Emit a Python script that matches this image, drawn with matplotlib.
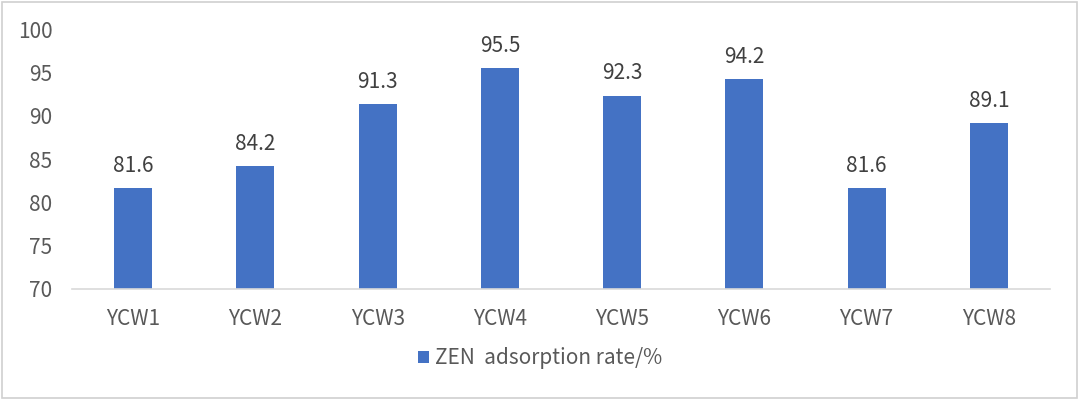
import matplotlib.pyplot as plt
from matplotlib.patches import Rectangle

plt.rcParams['font.family'] = ['Noto Sans CJK SC', 'DejaVu Sans']

categories = ["YCW1", "YCW2", "YCW3", "YCW4", "YCW5", "YCW6", "YCW7", "YCW8"]
values = [81.6, 84.2, 91.3, 95.5, 92.3, 94.2, 81.6, 89.1]
yticks = [70, 75, 80, 85, 90, 95, 100]
series_name = "ZEN  adsorption rate/%"

text_color = "#595959"
bar_color = "#4472C4"

fig = plt.figure(figsize=(10.8, 3.99), dpi=100)
ax = fig.add_axes([0.0667, 0.2757, 0.9055, 0.6516])

x = range(len(categories))
bars = ax.bar(x, values, width=0.31, color=bar_color, label=series_name, zorder=2)
for xi, v in zip(x, values):
    ax.text(xi, v + 1.3, f"{v:.1f}", ha="center", va="bottom",
            fontsize=15, color="#404040")

ax.set_xlim(-0.5, len(categories) - 0.5)
ax.set_ylim(70, 100)
ax.set_yticks(yticks)
ax.set_xticks(list(x))
ax.set_xticklabels(categories)
ax.tick_params(axis="both", length=0, labelsize=15, labelcolor=text_color)
ax.tick_params(axis="y", pad=14)
ax.tick_params(axis="x", pad=14)

for side in ["top", "right", "left"]:
    ax.spines[side].set_visible(False)
ax.spines["bottom"].set_color("#D9D9D9")
ax.spines["bottom"].set_linewidth(1.2)

fig.legend(handles=[bars], labels=[series_name], loc="center",
           bbox_to_anchor=(0.5, 0.102), frameon=False, fontsize=15,
           labelcolor=text_color, handlelength=0.55, handleheight=0.55,
           handletextpad=0.3)

fig.patches.append(Rectangle((0.002, 0.003), 0.995, 0.993, transform=fig.transFigure,
                             fill=False, edgecolor="#D0D0D0", linewidth=1.2))

fig.savefig("out.png", dpi=100)
